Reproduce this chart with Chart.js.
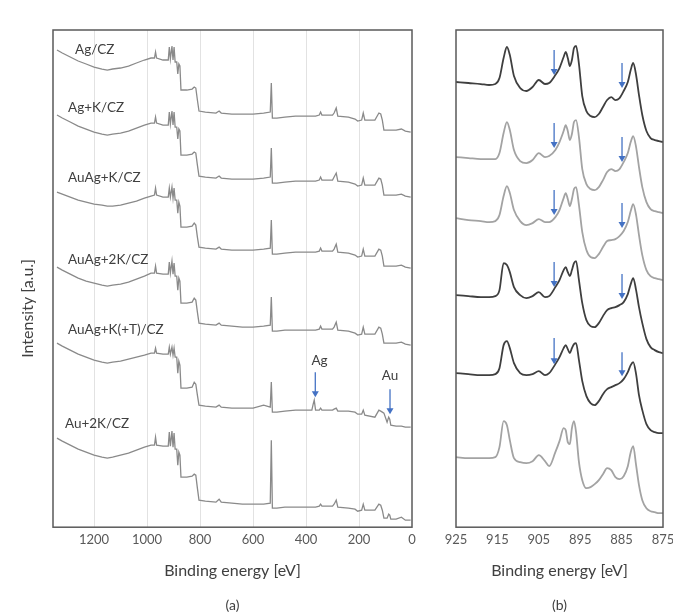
<!DOCTYPE html>
<html>
<head>
<meta charset="utf-8">
<script src="https://cdn.jsdelivr.net/npm/chart.js@4.4.1/dist/chart.umd.min.js"></script>
<style>
  html, body { margin: 0; padding: 0; background: #fff; overflow: hidden; }
  #wrap { position: relative; width: 673px; height: 615px; overflow: hidden; }
  #survey { position: absolute; left: 0; top: 0; }
  #ce3d { position: absolute; left: 436px; top: 0; }
</style>
</head>
<body>
<div id="wrap">
  <canvas id="survey" width="440" height="615"></canvas>
  <canvas id="ce3d" width="250" height="615"></canvas>
</div>
<script>
// ---- (a) survey spectra, binding energy in eV, intensity in a.u. (stacked)
const surveyNames = ['Ag/CZ', 'Ag+K/CZ', 'AuAg+K/CZ', 'AuAg+2K/CZ', 'AuAg+K(+T)/CZ', 'Au+2K/CZ'];
const surveyTicks = [1200, 1000, 800, 600, 400, 200, 0];
const surveyEnergy = [1340, 1320, 1290, 1260, 1230, 1200, 1170, 1150, 1130, 1100, 1070, 1040, 1010, 985, 972, 968, 964, 940, 920, 916,
  912, 906, 902, 898, 894, 888, 884, 880, 876, 872, 850, 830, 822, 816, 810, 804, 780, 740, 728, 720,
  680, 640, 600, 560, 535, 531, 527, 510, 480, 440, 400, 378, 373, 369, 364, 350, 345, 340, 300, 294,
  286, 280, 240, 215, 205, 190, 184, 178, 140, 125, 118, 112, 106, 94, 88, 84, 80, 60, 40, 25, 5];
const surveyAgCZ = [477, 474, 470, 466, 463, 460, 458, 457, 458, 459, 461, 464, 467, 469, 469, 475, 469, 467, 467, 480,
  468, 481, 467, 480, 465, 465, 453, 463, 461, 437, 437, 438, 440, 439, 427, 416, 415, 414, 416, 414,
  413, 413, 413, 414, 415, 444, 409, 409, 410, 411, 411, 411, 411, 411, 411, 412, 415, 412, 412, 414,
  419, 411, 410, 408, 406, 407, 414, 407, 407, 414, 413, 407, 397, 397, 397, 397, 397, 397, 398, 396, 395];
const surveyAgKCZ = [412, 409, 405, 401, 398, 395, 393, 392, 393, 394, 396, 399, 402, 404, 404, 410, 404, 402, 402, 415,
  403, 416, 402, 415, 400, 400, 388, 398, 396, 372, 372, 373, 375, 374, 362, 351, 350, 349, 351, 349,
  348, 348, 348, 349, 350, 379, 344, 344, 345, 346, 346, 346, 346, 346, 346, 347, 350, 347, 347, 350,
  354, 346, 345, 343, 341, 342, 349, 342, 342, 349, 348, 342, 332, 332, 332, 332, 332, 332, 333, 331, 330];
const surveyAuAgKCZ = [335, 333, 330, 327, 325, 323, 322, 321, 321, 322, 324, 326, 329, 331, 332, 339, 332, 330, 330, 339,
  330, 340, 329, 339, 327, 327, 314, 325, 321, 300, 300, 301, 304, 302, 290, 280, 279, 278, 280, 278,
  277, 277, 277, 278, 279, 307, 273, 273, 274, 275, 275, 275, 275, 275, 275, 276, 279, 276, 276, 278,
  283, 275, 274, 272, 270, 271, 278, 271, 271, 278, 277, 271, 261, 261, 261, 261, 261, 261, 262, 260, 259];
const surveyAuAg2KCZ = [260, 257, 253, 249, 246, 244, 242, 241, 242, 243, 245, 248, 251, 254, 254, 261, 254, 253, 253, 265,
  254, 266, 253, 264, 251, 251, 237, 249, 246, 224, 224, 225, 229, 227, 215, 204, 203, 202, 204, 202,
  201, 200, 200, 201, 202, 230, 196, 196, 197, 197, 197, 197, 197, 197, 197, 198, 201, 198, 198, 200,
  205, 197, 196, 194, 192, 193, 200, 193, 193, 200, 199, 193, 184, 184, 184, 184, 184, 184, 185, 183, 182];
const surveyAuAgKTCZ = [184, 181, 177, 173, 170, 167, 165, 164, 165, 166, 168, 170, 172, 174, 174, 179, 174, 173, 173, 180,
  173, 180, 172, 179, 170, 170, 154, 166, 162, 139, 139, 140, 145, 143, 132, 122, 121, 120, 122, 120,
  119, 119, 119, 122, 120, 145, 115, 115, 116, 117, 117, 117, 123, 127, 117, 117, 119, 117, 117, 118,
  119, 116, 116, 115, 113, 113, 117, 112, 110, 117, 116, 115, 114, 105, 110, 108, 102, 101, 101, 100, 100];
const surveyAu2KCZ = [89, 86, 82, 78, 75, 72, 70, 69, 70, 72, 74, 77, 80, 82, 82, 90, 82, 81, 81, 95,
  81, 96, 80, 94, 78, 78, 62, 75, 72, 50, 50, 51, 53, 52, 39, 27, 26, 25, 28, 25,
  24, 23, 23, 23, 24, 87, 19, 19, 20, 20, 20, 20, 20, 20, 20, 21, 23, 21, 21, 23,
  27, 20, 19, 18, 16, 17, 23, 17, 17, 23, 22, 17, 9, 9, 13, 12, 8, 8, 10, 7, 7];
const surveySeries = [surveyAgCZ, surveyAgKCZ, surveyAuAgKCZ, surveyAuAg2KCZ, surveyAuAgKTCZ, surveyAu2KCZ];

// ---- (b) Ce 3d region
const ce3dTicks = [925, 915, 905, 895, 885, 875];
const ce3dEnergy = [925, 922, 919, 917, 915.5, 914.5, 913.5, 912.7, 912, 911, 909.5, 908, 906.5, 905, 903.5, 902.5,
  901, 900, 899, 898.5, 898, 897.5, 897, 896.5, 896, 895.3, 894.5, 893.5, 892.5, 891.5, 890.5, 889.5,
  888.5, 887.5, 886.5, 885.5, 884.5, 883.5, 882.8, 882.2, 881.5, 880.8, 880, 879, 878, 877, 876, 875];
const ce3dAgCZ = [445, 444, 443, 442, 443, 449, 469, 480, 472, 451, 439, 436, 440, 447, 443, 444,
  452, 459, 470, 475, 469, 461, 467, 479, 481, 463, 431, 416, 411, 410, 413, 420,
  427, 430, 427, 429, 436, 445, 457, 464, 452, 432, 412, 396, 389, 387, 386, 385];
const ce3dAgKCZ = [370, 369, 368, 368, 368, 374, 394, 405, 397, 377, 366, 364, 367, 374, 370, 371,
  377, 385, 396, 402, 396, 387, 393, 405, 407, 390, 358, 343, 338, 337, 340, 347,
  355, 358, 356, 358, 365, 374, 385, 391, 380, 360, 340, 325, 318, 316, 315, 314];
const ce3dAuAgKCZ = [309, 307, 306, 305, 306, 312, 331, 341, 334, 317, 306, 302, 304, 308, 305, 305,
  310, 317, 329, 334, 328, 321, 328, 338, 340, 322, 295, 277, 270, 269, 273, 280,
  286, 287, 288, 291, 296, 305, 316, 323, 312, 292, 272, 257, 251, 249, 248, 247];
const ce3dAuAg2KCZ = [232, 231, 230, 230, 231, 237, 264, 262, 255, 240, 232, 229, 231, 235, 230, 231,
  240, 247, 257, 260, 255, 251, 257, 264, 266, 247, 224, 207, 201, 200, 204, 211,
  217, 219, 220, 222, 225, 233, 243, 249, 237, 220, 204, 188, 180, 177, 175, 174];
const ce3dAuAgKTCZ = [154, 153, 152, 152, 153, 159, 182, 186, 179, 164, 154, 152, 153, 156, 152, 154,
  163, 170, 179, 182, 178, 174, 179, 183, 184, 167, 146, 131, 124, 122, 126, 133,
  138, 140, 142, 144, 148, 155, 162, 165, 153, 132, 117, 103, 97, 95, 94, 94];
const ce3dAu2KCZ = [70, 69, 69, 69, 70, 80, 106, 102, 87, 69, 65, 64, 66, 72, 66, 61,
  75, 86, 99, 97, 85, 83, 99, 106, 95, 65, 47, 39, 40, 43, 47, 53,
  59, 57, 50, 48, 51, 61, 75, 81, 62, 42, 27, 19, 16, 15, 14, 14];
const ce3dSeries = [ce3dAgCZ, ce3dAgKCZ, ce3dAuAgKCZ, ce3dAuAg2KCZ, ce3dAuAgKTCZ, ce3dAu2KCZ];
const ce3dColors = ['#3f3f3f', '#a3a3a3', '#a3a3a3', '#3f3f3f', '#3f3f3f', '#a3a3a3'];

// annotations (energy, intensity)
const surveyLabelAt = [[1272, 477], [1298, 419], [1298, 349], [1298, 267], [1298, 197], [1310, 104]];
const surveyPeakLabels = [{ text: 'Ag', x: 349, y: 166 }, { text: 'Au', x: 83, y: 151 }];
const surveyArrows = [{ x: 365, from: 155, to: 130 }, { x: 83, from: 138, to: 113 }];
const ce3dArrows = [
  { x: 901.3, from: 477, to: 452 }, { x: 884.9, from: 464, to: 439 },
  { x: 901.3, from: 404, to: 379 }, { x: 884.9, from: 390, to: 365 },
  { x: 901.3, from: 337, to: 312 }, { x: 884.9, from: 324, to: 299 },
  { x: 901.3, from: 265, to: 240 }, { x: 884.9, from: 253, to: 228 },
  { x: 901.3, from: 189, to: 163 }, { x: 884.9, from: 175, to: 151 }
];

Chart.defaults.font.family = 'Lato';
Chart.defaults.color = '#404040';

// frame, arrows, in-plot labels and the rotated y title
const marks = {
  id: 'marks',
  afterDraw(chart, args, opts) {
    const { ctx, chartArea: a } = chart;
    const x = chart.scales.x, y = chart.scales.y;
    ctx.save();
    ctx.strokeStyle = '#5a5a5a';
    ctx.lineWidth = 1.5;
    ctx.strokeRect(a.left, a.top, a.right - a.left, a.bottom - a.top);

    ctx.strokeStyle = ctx.fillStyle = '#4472c4';
    ctx.lineWidth = 1.3;
    (opts.arrows || []).forEach(ar => {
      const px = x.getPixelForValue(ar.x);
      const y0 = y.getPixelForValue(ar.from), y1 = y.getPixelForValue(ar.to);
      ctx.beginPath(); ctx.moveTo(px, y0); ctx.lineTo(px, y1 - 5); ctx.stroke();
      ctx.beginPath(); ctx.moveTo(px - 3.5, y1 - 6); ctx.lineTo(px + 3.5, y1 - 6); ctx.lineTo(px, y1); ctx.closePath(); ctx.fill();
    });

    ctx.fillStyle = '#404040';
    ctx.font = '13.5px Lato';
    ctx.textBaseline = 'middle';
    (opts.labels || []).forEach(l => {
      ctx.textAlign = l.align || 'left';
      ctx.fillText(l.text, x.getPixelForValue(l.x), y.getPixelForValue(l.y));
    });

    if (opts.yTitle) {
      ctx.font = '16px Lato';
      ctx.textAlign = 'center';
      ctx.translate(a.left - 25, a.top + (a.bottom - a.top) * 0.56);
      ctx.rotate(-Math.PI / 2);
      ctx.fillText(opts.yTitle, 0, 0);
    }
    ctx.restore();
  }
};

function xAxis(min, max, ticks, grid) {
  return {
    type: 'linear', reverse: true, min, max,
    afterBuildTicks: s => { s.ticks = ticks.map(v => ({ value: v })); },
    afterFit: s => { s.height = 70; },
    ticks: { callback: v => `${v}`, color: '#595959', font: { size: 13 }, padding: 5, maxRotation: 0, autoSkip: false },
    grid: grid
      ? { drawTicks: false, color: c => (c.tick && c.tick.value === 0 ? 'rgba(0,0,0,0)' : '#e2e2e2'), lineWidth: 1 }
      : { display: false, drawTicks: false },
    border: { display: false },
    title: { display: true, text: 'Binding energy [eV]', color: '#404040', font: { size: 16 }, padding: { top: 0, bottom: 16.6 } }
  };
}

function baseOptions(padding, caption, scaleX, markOpts) {
  return {
    responsive: false,
    animation: false,
    layout: { padding },
    plugins: {
      legend: { display: false },
      tooltip: { enabled: false },
      title: { display: true, text: caption, position: 'bottom', color: '#404040', font: { size: 14, weight: 'normal' }, padding: { top: 0, bottom: 1 } },
      marks: markOpts
    },
    scales: { x: scaleX, y: { display: false, min: 0, max: 497 } }
  };
}

new Chart(document.getElementById('survey'), {
  type: 'line',
  data: {
    datasets: surveyNames.map((name, i) => ({
      label: name,
      data: surveyEnergy.map((e, j) => ({ x: e, y: surveySeries[i][j] })),
      borderColor: '#8a8a8a', borderWidth: 1.3, pointRadius: 0, tension: 0, fill: false
    }))
  },
  options: baseOptions({ left: 53, right: 28, top: 30, bottom: 0 }, '(a)', xAxis(0, 1355, surveyTicks, true), {
    arrows: surveyArrows,
    labels: surveyNames.map((t, i) => ({ text: t, x: surveyLabelAt[i][0], y: surveyLabelAt[i][1] }))
      .concat(surveyPeakLabels.map(p => ({ text: p.text, x: p.x, y: p.y, align: 'center' }))),
    yTitle: 'Intensity [a.u.]'
  }),
  plugins: [marks]
});

new Chart(document.getElementById('ce3d'), {
  type: 'line',
  data: {
    datasets: surveyNames.map((name, i) => ({
      label: name,
      data: ce3dEnergy.map((e, j) => ({ x: e, y: ce3dSeries[i][j] })),
      borderColor: ce3dColors[i], borderWidth: 1.8, pointRadius: 0,
      cubicInterpolationMode: 'monotone', fill: false
    }))
  },
  options: baseOptions({ left: 20, right: 23, top: 30, bottom: 0 }, '(b)', xAxis(875, 925, ce3dTicks, false), {
    arrows: ce3dArrows
  }),
  plugins: [marks]
});
</script>
</body>
</html>
